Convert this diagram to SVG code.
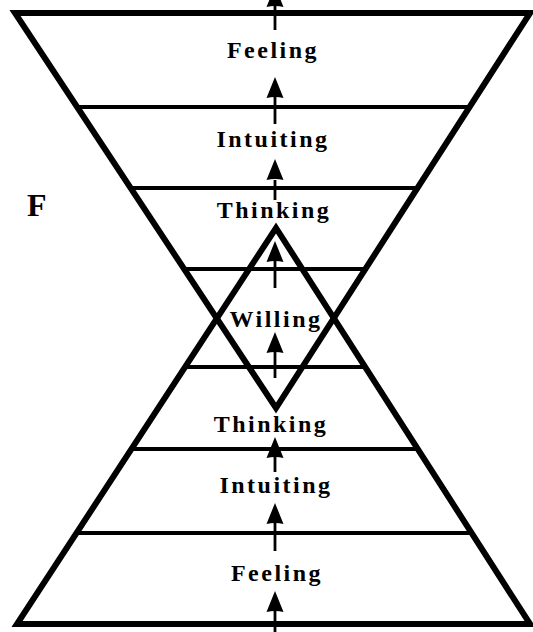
<svg xmlns="http://www.w3.org/2000/svg" xmlns:xlink="http://www.w3.org/1999/xlink" width="533" height="632" viewBox="0 0 533 632">
<style>
.tri{fill:none;stroke:#000;stroke-width:6;stroke-linejoin:miter;stroke-miterlimit:10}
.band{stroke:#000;stroke-width:4;fill:none}
.stem{stroke:#000;stroke-width:2.8;fill:none}
.lbl{font-family:"Liberation Serif","Times New Roman",serif;font-weight:bold;font-size:24px;letter-spacing:2.5px;text-anchor:middle;fill:#000}
.big{font-family:"Liberation Serif","Times New Roman",serif;font-weight:bold;font-size:32px;fill:#000}
</style>
<defs>
<path id="ah" d="M0,0 L8.5,21 Q0,19 -8.5,21 Z" fill="#000"/>
</defs>
<rect width="533" height="632" fill="#fff"/>
<g id="top-triangle">
<polygon class="tri" points="15,13 530,13 276,408"/>
</g>
<g id="bottom-triangle">
<polygon class="tri" points="17,624 530,624 276,228"/>
</g>
<g id="bands">
<line class="band" x1="77" y1="107" x2="470" y2="107"/>
<line class="band" x1="130" y1="188" x2="418" y2="188"/>
<line class="band" x1="184" y1="269" x2="366" y2="269"/>
<line class="band" x1="185" y1="367" x2="366" y2="367"/>
<line class="band" x1="131" y1="449" x2="418" y2="449"/>
<line class="band" x1="76" y1="533" x2="472" y2="533"/>
</g>
<g id="connectors">
<line class="stem" x1="275" y1="30" x2="275" y2="4"/><use xlink:href="#ah" x="275" y="-14"/>
<line class="stem" x1="275" y1="124" x2="275" y2="96"/><use xlink:href="#ah" x="275" y="77"/>
<line class="stem" x1="275" y1="200" x2="275" y2="180"/><use xlink:href="#ah" x="275" y="159"/>
<line class="stem" x1="275" y1="288" x2="275" y2="261"/><use xlink:href="#ah" x="275" y="241"/>
<line class="stem" x1="275" y1="378" x2="275" y2="352"/><use xlink:href="#ah" x="275" y="332"/>
<line class="stem" x1="275" y1="472" x2="275" y2="457"/><use xlink:href="#ah" x="275" y="437"/>
<line class="stem" x1="275" y1="551" x2="275" y2="523"/><use xlink:href="#ah" x="275" y="503"/>
<line class="stem" x1="275" y1="632" x2="275" y2="611"/><use xlink:href="#ah" x="275" y="591"/>
</g>
<g id="label-feeling-top"><text class="lbl" x="273" y="58">Feeling</text></g>
<g id="label-intuiting-top"><text class="lbl" x="273" y="147">Intuiting</text></g>
<g id="label-thinking-top"><text class="lbl" x="274" y="218">Thinking</text></g>
<g id="label-willing"><text class="lbl" x="276" y="327">Willing</text></g>
<g id="label-thinking-bottom"><text class="lbl" x="271" y="432">Thinking</text></g>
<g id="label-intuiting-bottom"><text class="lbl" x="276" y="493">Intuiting</text></g>
<g id="label-feeling-bottom"><text class="lbl" x="277" y="581">Feeling</text></g>
<g id="label-f"><text class="big" x="27" y="216">F</text></g>
</svg>
